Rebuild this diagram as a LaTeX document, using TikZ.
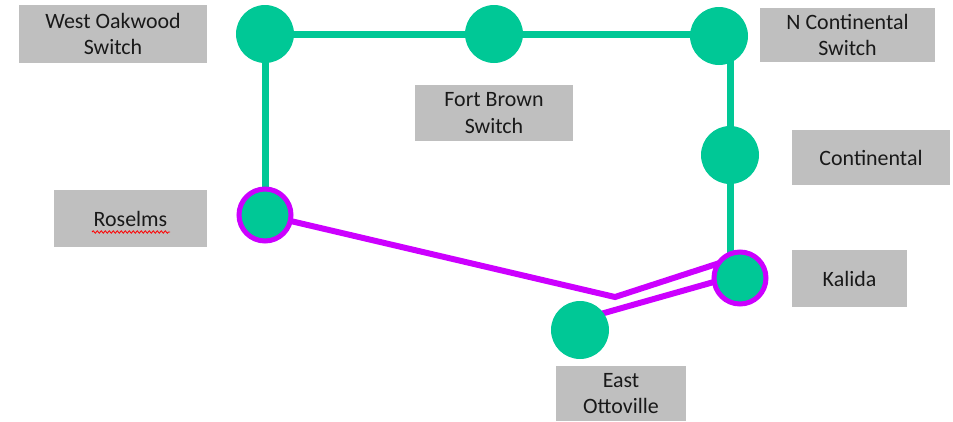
\documentclass[tikz,border=0pt]{standalone}
\usepackage{fontspec}
\setmainfont{Carlito}
\usetikzlibrary{decorations.pathmorphing}
\definecolor{grn}{RGB}{0,200,150}
\definecolor{mag}{RGB}{204,0,255}
\definecolor{boxgray}{RGB}{191,191,191}
\definecolor{txt}{RGB}{25,25,25}
\begin{document}
\begin{tikzpicture}[x=1bp,y=-1bp,
  stn/.style={circle,fill=grn,minimum size=58bp,inner sep=0pt},
  ring/.style={circle,fill=grn,draw=mag,line width=5bp,minimum size=52bp,inner sep=0pt},
  lbl/.style={fill=boxgray,text=txt,align=center,inner sep=0pt,font=\fontsize{22}{27}\selectfont},
  gline/.style={draw=grn,line width=7bp},
  mline/.style={draw=mag,line width=6bp}]
\useasboundingbox (0,0) rectangle (953,421);
% labels
\node[lbl,minimum width=188bp,minimum height=58bp] (lwo) at (113,34) {West Oakwood\\Switch};
\node[lbl,minimum width=158bp,minimum height=56bp] (lfb) at (494,113) {Fort Brown\\Switch};
\node[lbl,minimum width=175bp,minimum height=54bp] (lnc) at (847.5,35) {N Continental\\Switch};
\node[lbl,minimum width=158bp,minimum height=55bp] (lco) at (871,157.5) {Continental};
\node[lbl,minimum width=153bp,minimum height=57bp] (lro) at (130.5,218.5) {Roselms};
\node[lbl,minimum width=115bp,minimum height=57bp] (lka) at (849.5,278.5) {Kalida};
\node[lbl,minimum width=130bp,minimum height=55bp] (leo) at (621,393.5) {East\\Ottoville};
\coordinate (sq1) at (92,232);
\coordinate (sq2) at (170,232);
\draw[red,line width=0.8bp,decorate,decoration={snake,amplitude=1.2bp,segment length=4bp}] (sq1) -- (sq2);
% station positions
\coordinate (pwo) at (265,34);
\coordinate (pfb) at (494,34);
\coordinate (pnc) at (719,36);
\coordinate (pco) at (730,155);
\coordinate (pka) at (740,278);
\coordinate (pro) at (265,215);
\coordinate (peo) at (580,330);
\coordinate (topend) at (719,34);
\coordinate (ncdown) at (730,40);
\coordinate (kin) at (730,265);
\coordinate (vtx) at (615,297);
\coordinate (kup) at (735,258);
\coordinate (eostart) at (590,317);
\coordinate (kdown) at (735,276);
% green track
\draw[gline] (pwo) -- (pfb) -- (topend);
\draw[gline] (pwo) -- (pro);
\draw[gline] (ncdown) -- (pco) -- (kin);
% magenta track
\draw[mline,line join=miter] (pro) -- (vtx) -- (kup);
\draw[mline] (eostart) -- (kdown);
% stations
\node[stn] (wo) at (pwo) {};
\node[stn] (fb) at (pfb) {};
\node[stn] (nc) at (pnc) {};
\node[stn] (co) at (pco) {};
\node[stn] (eo) at (peo) {};
\node[ring] (ka) at (pka) {};
\node[ring] (ro) at (pro) {};
\end{tikzpicture}
\end{document}
